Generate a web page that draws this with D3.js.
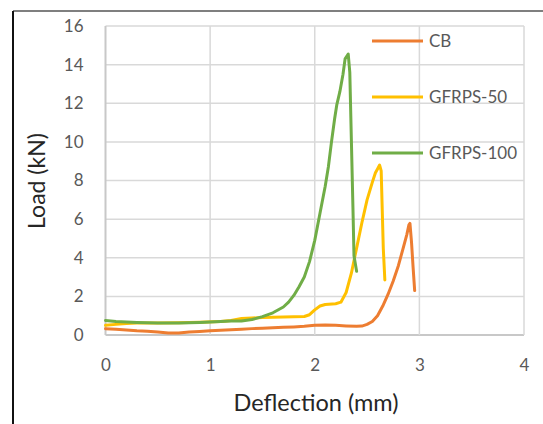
<!DOCTYPE html>
<html>
<head>
<meta charset="utf-8">
<script src="https://cdn.jsdelivr.net/npm/d3@7"></script>
<style>
  body { margin: 0; background: #fff; }
  svg text { font-family: Lato, "Open Sans", sans-serif; }
</style>
</head>
<body>
<div id="chart"></div>
<script>
var seriesNames = ['CB', 'GFRPS-50', 'GFRPS-100'];
var seriesColors = ['#ED7D31', '#FFC000', '#70AD47'];

var cbDeflection = [0, 0.1, 0.2, 0.3, 0.4, 0.5, 0.6, 0.7, 0.8, 0.9, 1.0, 1.1, 1.2, 1.3, 1.4, 1.5, 1.6, 1.7, 1.8, 1.9, 2.0, 2.1, 2.2, 2.3, 2.4, 2.45, 2.5, 2.55, 2.6, 2.65, 2.7, 2.75, 2.8, 2.84, 2.88, 2.9, 2.91, 2.925, 2.94, 2.955];
var cbLoad = [0.32, 0.30, 0.26, 0.22, 0.2, 0.15, 0.1, 0.1, 0.15, 0.18, 0.22, 0.25, 0.27, 0.3, 0.33, 0.35, 0.38, 0.40, 0.42, 0.45, 0.5, 0.52, 0.5, 0.47, 0.45, 0.46, 0.55, 0.7, 1.0, 1.5, 2.1, 2.8, 3.6, 4.4, 5.2, 5.7, 5.78, 4.8, 3.5, 2.3];

var g50Deflection = [0, 0.1, 0.2, 0.3, 0.5, 0.7, 0.9, 1.1, 1.2, 1.3, 1.4, 1.5, 1.6, 1.7, 1.8, 1.9, 1.95, 2.0, 2.05, 2.1, 2.2, 2.25, 2.3, 2.35, 2.4, 2.45, 2.5, 2.55, 2.58, 2.6, 2.62, 2.635, 2.645, 2.655, 2.67];
var g50Load = [0.5, 0.55, 0.6, 0.62, 0.62, 0.64, 0.66, 0.7, 0.75, 0.85, 0.88, 0.9, 0.92, 0.93, 0.94, 0.96, 1.05, 1.3, 1.5, 1.58, 1.62, 1.7, 2.2, 3.2, 4.5, 5.8, 7.0, 7.9, 8.4, 8.6, 8.8, 8.5, 6.5, 4.5, 2.85];

var g100Deflection = [0, 0.1, 0.3, 0.5, 0.7, 0.9, 1.0, 1.1, 1.2, 1.3, 1.4, 1.5, 1.6, 1.7, 1.75, 1.8, 1.85, 1.9, 1.95, 2.0, 2.05, 2.1, 2.13, 2.16, 2.19, 2.21, 2.24, 2.27, 2.29, 2.32, 2.335, 2.35, 2.365, 2.375, 2.40];
var g100Load = [0.75, 0.7, 0.65, 0.62, 0.62, 0.65, 0.67, 0.7, 0.72, 0.72, 0.8, 0.95, 1.15, 1.45, 1.7, 2.05, 2.5, 3.0, 3.8, 4.9, 6.3, 7.7, 8.7, 10.0, 11.2, 11.9, 12.6, 13.5, 14.3, 14.55, 13.6, 10.1, 6.6, 4.1, 3.3];

var xTicks = [0, 1, 2, 3, 4];
var yTicks = [0, 2, 4, 6, 8, 10, 12, 14, 16];

var width = 543, height = 424;
var plot = { left: 105.5, right: 524, top: 26, bottom: 335 };

var svg = d3.select('#chart').append('svg')
    .attr('width', width)
    .attr('height', height);

// outer frame (only top and left edges are visible)
svg.append('line').attr('x1', 13).attr('x2', width).attr('y1', 11).attr('y2', 11)
    .attr('stroke', '#555').attr('stroke-width', 1.5);
svg.append('line').attr('x1', 13).attr('x2', 13).attr('y1', 11).attr('y2', height)
    .attr('stroke', '#111').attr('stroke-width', 2);

var x = d3.scaleLinear().domain([0, 4]).range([plot.left, plot.right]);
var y = d3.scaleLinear().domain([0, 16]).range([plot.bottom, plot.top]);

// gridlines
svg.append('g').selectAll('line').data(yTicks).enter().append('line')
    .attr('x1', plot.left).attr('x2', plot.right)
    .attr('y1', function(d) { return y(d); })
    .attr('y2', function(d) { return y(d); })
    .attr('stroke', function(d) { return d === 0 ? '#c8c8c8' : '#d9d9d9'; })
    .attr('stroke-width', function(d) { return d === 0 ? 2 : 1.5; });
svg.append('g').selectAll('line').data(xTicks).enter().append('line')
    .attr('y1', plot.top).attr('y2', plot.bottom)
    .attr('x1', function(d) { return x(d); })
    .attr('x2', function(d) { return x(d); })
    .attr('stroke', function(d) { return d === 0 ? '#c8c8c8' : '#d9d9d9'; })
    .attr('stroke-width', function(d) { return d === 0 ? 2 : 1.5; });

// tick labels
var xAxis = svg.append('g')
    .attr('transform', 'translate(0,' + plot.bottom + ')')
    .call(d3.axisBottom(x).tickValues(xTicks).tickSize(0).tickPadding(24).tickFormat(d3.format('d')));
var yAxis = svg.append('g')
    .attr('transform', 'translate(' + plot.left + ',0)')
    .call(d3.axisLeft(y).tickValues(yTicks).tickSize(0).tickPadding(22).tickFormat(d3.format('d')));
[xAxis, yAxis].forEach(function(a) {
    a.select('.domain').remove();
    a.selectAll('text').attr('font-size', 17).attr('fill', '#595959')
        .style('font-family', 'Lato, sans-serif');
});

// axis titles
svg.append('text')
    .attr('x', 316).attr('y', 411)
    .attr('text-anchor', 'middle')
    .attr('font-size', 23.5)
    .attr('fill', '#262626')
    .text('Deflection (mm)');
svg.append('text')
    .attr('transform', 'translate(45,181) rotate(-90)')
    .attr('text-anchor', 'middle')
    .attr('font-size', 23)
    .attr('fill', '#262626')
    .text('Load (kN)');

// series
var series = [
    { xs: cbDeflection, ys: cbLoad },
    { xs: g50Deflection, ys: g50Load },
    { xs: g100Deflection, ys: g100Load }
];
var line = d3.line()
    .x(function(d) { return x(d[0]); })
    .y(function(d) { return y(d[1]); });

series.forEach(function(s, i) {
    var pts = s.xs.map(function(d, j) { return [d, s.ys[j]]; });
    svg.append('path')
        .datum(pts)
        .attr('d', line)
        .attr('fill', 'none')
        .attr('stroke', seriesColors[i])
        .attr('stroke-width', 3)
        .attr('stroke-linejoin', 'round')
        .attr('stroke-linecap', 'round');
});

// legend
var legendY = [41, 97, 153];
var legend = svg.append('g').selectAll('g').data(seriesNames).enter().append('g')
    .attr('transform', function(d, i) { return 'translate(372,' + legendY[i] + ')'; });
legend.append('line')
    .attr('x1', 0).attr('x2', 51)
    .attr('stroke', function(d, i) { return seriesColors[i]; })
    .attr('stroke-width', 3);
legend.append('text')
    .attr('x', 57).attr('dy', '0.35em')
    .attr('font-size', 17)
    .attr('fill', '#595959')
    .text(function(d) { return d; });
</script>
</body>
</html>
